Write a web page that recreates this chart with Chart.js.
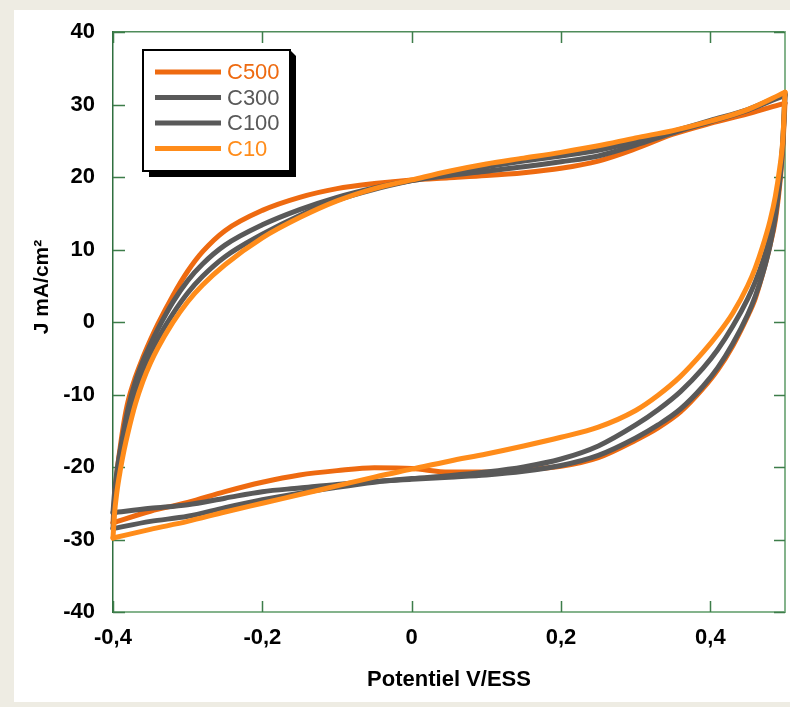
<!DOCTYPE html>
<html>
<head>
<meta charset="utf-8">
<script src="https://cdn.jsdelivr.net/npm/chart.js@4.4.1/dist/chart.umd.min.js"></script>
<style>
  html, body { margin: 0; padding: 0; background: #eeece3; }
  #panel { position: absolute; left: 14px; top: 10px; width: 776px; height: 692px; background: #ffffff; }
  #cvChart { position: absolute; left: 0; top: 0; }
</style>
</head>
<body>
<div id="panel"></div>
<canvas id="cvChart" width="790" height="707"></canvas>
<script>
// Cyclic voltammograms: each loop = anodic (upper) branch + cathodic (lower) branch,
// both stored against increasing potential

// potential grid, V/ESS
const upX = [-0.4, -0.398, -0.395, -0.39, -0.385, -0.38, -0.37, -0.36, -0.35, -0.34, -0.32, -0.3, -0.28, -0.25, -0.2,
             -0.15, -0.1, -0.05, 0, 0.05, 0.1, 0.15, 0.2, 0.25, 0.3, 0.35, 0.4, 0.45, 0.5];
const downX = [-0.4, -0.35, -0.3, -0.25, -0.2, -0.15, -0.1, -0.05, 0, 0.05, 0.1, 0.15, 0.2, 0.25, 0.3,
               0.33, 0.36, 0.39, 0.41, 0.43, 0.45, 0.46, 0.47, 0.48, 0.487, 0.493, 0.497, 0.5];

// current density J, mA/cm²
const c500Up = [-27.7, -24.5, -21, -17, -13.6, -11, -7.6, -4.9, -2.5, -0.3, 3.6, 7.0, 9.7, 12.6, 15.4,
                17.2, 18.4, 19.1, 19.6, 19.9, 20.2, 20.6, 21.2, 22.2, 23.9, 25.9, 27.4, 28.7, 30.2];
const c500Down = [-27.7, -26.1, -24.9, -23.4, -22.1, -21.1, -20.5, -20.1, -20.2, -20.7, -20.7, -20.4, -19.9, -18.7, -16.3,
                  -14.6, -12.4, -9.2, -6.6, -3.3, 0.8, 3.2, 6.6, 10.6, 14.0, 19.0, 24.0, 30.2];

const c300Up = [-26.3, -23.6, -20.8, -17.5, -14.6, -12.0, -8.2, -5.4, -3.1, -1.0, 2.7, 5.7, 8.0, 10.6, 13.4,
                15.5, 17.2, 18.5, 19.5, 20.2, 20.8, 21.4, 22.1, 22.9, 24.4, 26.1, 27.6, 29.2, 31.3];
const c300Down = [-26.3, -25.7, -25.2, -24.3, -23.4, -22.9, -22.4, -22.0, -21.7, -21.4, -21.1, -20.6, -19.8, -18.4, -16.0,
                  -14.2, -12.0, -8.9, -6.3, -3.0, 1.0, 3.5, 6.6, 10.6, 14.5, 19.5, 24.5, 31.3];

const c100Up = [-28.5, -25.4, -22.2, -18.6, -15.6, -13.0, -9.4, -6.6, -4.3, -2.3, 1.1, 4.0, 6.3, 9.0, 12.1,
                14.7, 16.8, 18.3, 19.5, 20.5, 21.4, 22.2, 22.9, 23.7, 24.9, 26.3, 27.8, 29.3, 31.5];
const c100Down = [-28.5, -27.5, -26.8, -25.6, -24.5, -23.6, -22.8, -22.1, -21.6, -21.2, -20.7, -20.0, -18.9, -17.1, -14.2,
                  -12.1, -9.6, -6.4, -3.8, -0.6, 3.2, 5.5, 8.3, 11.8, 15.3, 19.9, 24.8, 31.5];

const c10Up = [-29.8, -26.5, -23.6, -20.3, -17.6, -15.3, -11.3, -8.2, -5.7, -3.6, -0.1, 2.8, 5.1, 7.9, 11.6,
               14.4, 16.7, 18.4, 19.6, 20.8, 21.8, 22.6, 23.4, 24.3, 25.4, 26.4, 27.7, 29.3, 31.7];
const c10Down = [-29.8, -28.6, -27.5, -26.2, -25.0, -23.8, -22.6, -21.4, -20.3, -19.2, -18.2, -17.1, -15.9, -14.5, -12.2,
                 -10.1, -7.5, -4.2, -1.7, 1.2, 5.0, 7.4, 10.4, 14.0, 17.3, 21.3, 25.0, 31.7];

const xTicks = [-0.4, -0.2, 0, 0.2, 0.4];
const yTicks = [40, 30, 20, 10, 0, -10, -20, -30, -40];

function toPoints(xs, ys) {
    return xs.map((x, i) => ({ x: x, y: ys[i] }));
}

function makeSet(label, xs, ys, color, order) {
    return {
        label: label,
        data: toPoints(xs, ys),
        borderColor: color,
        backgroundColor: color,
        borderWidth: 5,
        borderCapStyle: 'round',
        pointRadius: 0,
        showLine: true,
        cubicInterpolationMode: 'monotone',
        order: order,
        clip: false
    };
}

const fontFam = '"Liberation Sans", Arial, sans-serif';

// inward tick marks on all four sides
const frameTicks = {
    id: 'frameTicks',
    beforeDatasetsDraw(chart) {
        const ctx = chart.ctx;
        const a = chart.chartArea;
        const sx = chart.scales.x, sy = chart.scales.y;
        ctx.save();
        ctx.strokeStyle = '#3d7d4a';
        ctx.lineWidth = 1.5;
        ctx.beginPath();
        sx.ticks.forEach(t => {
            const px = Math.round(sx.getPixelForValue(t.value)) + 0.5;
            ctx.moveTo(px, a.bottom); ctx.lineTo(px, a.bottom - 11);
            ctx.moveTo(px, a.top); ctx.lineTo(px, a.top + 11);
        });
        sy.ticks.forEach(t => {
            const py = Math.round(sy.getPixelForValue(t.value)) + 0.5;
            ctx.moveTo(a.left, py); ctx.lineTo(a.left + 12, py);
            ctx.moveTo(a.right, py); ctx.lineTo(a.right - 11, py);
        });
        ctx.stroke();
        ctx.restore();
    }
};

// boxed legend with a black drop shadow + rotated y title
const boxLegend = {
    id: 'boxLegend',
    afterDraw(chart) {
        const ctx = chart.ctx;
        const bx = 143, by = 50, bw = 147, bh = 121, sh = 6;
        ctx.save();
        ctx.fillStyle = '#000';
        ctx.beginPath();
        ctx.moveTo(bx + sh, by + bh);
        ctx.lineTo(bx + sh, by + bh + sh);
        ctx.lineTo(bx + bw + sh, by + bh + sh);
        ctx.lineTo(bx + bw + sh, by + sh);
        ctx.lineTo(bx + bw, by);
        ctx.closePath();
        ctx.fill();
        ctx.fillStyle = '#fff';
        ctx.fillRect(bx, by, bw, bh);
        ctx.strokeStyle = '#000';
        ctx.lineWidth = 2;
        ctx.strokeRect(bx, by, bw, bh);

        // one entry per series (each series has two branch datasets)
        const seen = [];
        chart.data.datasets.forEach(ds => {
            if (!seen.find(s => s.label === ds.label)) seen.push(ds);
        });
        ctx.font = '22px ' + fontFam;
        ctx.textBaseline = 'middle';
        ctx.textAlign = 'left';
        seen.forEach((ds, i) => {
            const y = 72 + i * 25.5;
            ctx.strokeStyle = ds.borderColor;
            ctx.lineWidth = 5;
            ctx.beginPath();
            ctx.moveTo(155, y); ctx.lineTo(221, y);
            ctx.stroke();
            ctx.fillStyle = ds.borderColor;
            ctx.fillText(ds.label, 227, y + 1);
        });

        ctx.translate(42, 287);
        ctx.rotate(-Math.PI / 2);
        ctx.fillStyle = '#000';
        ctx.font = 'bold 21px ' + fontFam;
        ctx.textAlign = 'center';
        ctx.fillText('J mA/cm²', 0, 0);
        ctx.restore();
    }
};

const tickFont = { family: fontFam, size: 22, weight: 'bold' };

new Chart(document.getElementById('cvChart').getContext('2d'), {
    type: 'scatter',
    data: {
        datasets: [
            makeSet('C500', upX, c500Up, '#ee6a10', 8),
            makeSet('C500', downX, c500Down, '#ee6a10', 7),
            makeSet('C300', upX, c300Up, '#595959', 6),
            makeSet('C300', downX, c300Down, '#595959', 5),
            makeSet('C100', upX, c100Up, '#595959', 4),
            makeSet('C100', downX, c100Down, '#595959', 3),
            makeSet('C10', upX, c10Up, '#ff8c1a', 2),
            makeSet('C10', downX, c10Down, '#ff8c1a', 1)
        ]
    },
    options: {
        responsive: false,
        animation: false,
        layout: { padding: { top: 32, right: 5, left: 0, bottom: 0 } },
        plugins: {
            legend: { display: false },
            tooltip: { enabled: false }
        },
        scales: {
            x: {
                type: 'linear',
                position: 'bottom',
                min: -0.4,
                max: 0.5,
                afterBuildTicks: s => { s.ticks = xTicks.map(v => ({ value: v })); },
                afterFit: s => { s.height = 95; },
                grid: { drawOnChartArea: false, drawTicks: false },
                border: { display: true, color: '#84b38c', width: 2 },
                ticks: {
                    font: tickFont,
                    color: '#000',
                    padding: 13,
                    maxRotation: 0,
                    callback: v => String(v).replace('.', ',')
                },
                title: {
                    display: true,
                    text: 'Potentiel V/ESS',
                    color: '#000',
                    font: tickFont,
                    padding: { top: 4, bottom: 14 }
                }
            },
            x2: {
                type: 'linear',
                position: 'top',
                min: -0.4,
                max: 0.5,
                afterFit: s => { s.height = 0; },
                grid: { drawOnChartArea: false, drawTicks: false },
                border: { display: true, color: '#4f8c5a', width: 1.5 },
                ticks: { display: false }
            },
            y: {
                type: 'linear',
                position: 'left',
                min: -40,
                max: 40,
                afterBuildTicks: s => { s.ticks = yTicks.map(v => ({ value: v })); },
                afterFit: s => { s.width = 113; },
                grid: { drawOnChartArea: false, drawTicks: false },
                border: { display: true, color: '#2f6f3f', width: 1.5 },
                ticks: { font: tickFont, color: '#000', padding: 18 }
            },
            y2: {
                type: 'linear',
                position: 'right',
                min: -40,
                max: 40,
                afterFit: s => { s.width = 0; },
                grid: { drawOnChartArea: false, drawTicks: false },
                border: { display: true, color: '#84b38c', width: 2 },
                ticks: { display: false }
            }
        }
    },
    plugins: [frameTicks, boxLegend]
});
</script>
</body>
</html>
